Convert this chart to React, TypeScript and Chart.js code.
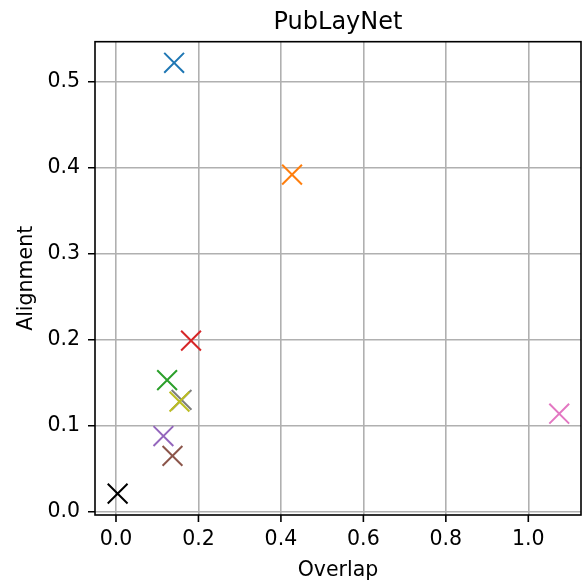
import React, { useEffect, useRef } from "react";
import { Chart, registerables } from "chart.js";

Chart.register(...registerables);

const TITLE = "PubLayNet";
const X_LABEL = "Overlap";
const Y_LABEL = "Alignment";

const overlap = [0.141, 0.427, 0.124, 0.182, 0.115, 0.137, 1.075, 0.159, 0.154, 0.004];
const alignment = [0.522, 0.392, 0.153, 0.199, 0.088, 0.065, 0.114, 0.13, 0.128, 0.021];
const colors = ["#1f77b4", "#ff7f0e", "#2ca02c", "#d62728", "#9467bd", "#8c564b", "#e377c2", "#7f7f7f", "#bcbd22", "#000000"];

const X_TICKS = [0, 0.2, 0.4, 0.6, 0.8, 1.0];
const Y_TICKS = [0, 0.1, 0.2, 0.3, 0.4, 0.5];

const FONT = "'DejaVu Sans', sans-serif";

const framePlugin = {
  id: "frame",
  afterDraw(chart: any) {
    const { ctx, chartArea } = chart;
    const { left, right, top, bottom } = chartArea;
    ctx.save();
    ctx.strokeStyle = "#000";
    ctx.lineWidth = 1.6;
    ctx.strokeRect(left, top, right - left, bottom - top);
    const xs = chart.scales.x;
    const ys = chart.scales.y;
    ctx.beginPath();
    for (const t of X_TICKS) {
      const px = xs.getPixelForValue(t);
      ctx.moveTo(px, bottom);
      ctx.lineTo(px, bottom + 7);
    }
    for (const t of Y_TICKS) {
      const py = ys.getPixelForValue(t);
      ctx.moveTo(left, py);
      ctx.lineTo(left - 7, py);
    }
    ctx.stroke();
    ctx.fillStyle = "#000";
    ctx.font = `24px ${FONT}`;
    ctx.textAlign = "center";
    ctx.textBaseline = "alphabetic";
    ctx.fillText(TITLE, (left + right) / 2, 28.5);
    ctx.restore();
  },
};

export default function App() {
  const ref = useRef<HTMLCanvasElement>(null);
  useEffect(() => {
    if (!ref.current) return;
    const datasets = overlap.map((x, i) => ({
      label: String(i),
      data: [{ x, y: alignment[i] }],
      borderColor: colors[i],
      backgroundColor: colors[i],
      pointStyle: "crossRot",
      pointRadius: 14,
      pointBorderWidth: 2,
      order: -i,
    }));
    const chart = new Chart(ref.current, {
      type: "scatter",
      data: { datasets },
      options: {
        animation: false,
        responsive: false,
        maintainAspectRatio: false,
        layout: { autoPadding: false, padding: { top: 41.7, right: 2, left: 0, bottom: 0 } },
        plugins: {
          legend: { display: false },
          title: { display: false },
          tooltip: { enabled: false },
        },
        scales: {
          x: {
            type: "linear",
            min: -0.0509,
            max: 1.1278,
            afterBuildTicks: (s: any) => {
              s.ticks = X_TICKS.map((v) => ({ value: v }));
            },
            afterFit: (s: any) => {
              s.height = 71;
              s.paddingLeft = 0;
              s.paddingRight = 0;
            },
            grid: { color: "#b0b0b0", lineWidth: 1.6, drawTicks: false },
            border: { display: false },
            ticks: {
              color: "#000",
              font: { family: FONT, size: 20.5 },
              padding: 12,
              callback: (v: any) => Number(v).toFixed(1),
            },
            title: {
              display: true,
              text: X_LABEL,
              color: "#000",
              font: { family: FONT, size: 20.5 },
              padding: { top: 0, bottom: 2.8 },
            },
          },
          y: {
            type: "linear",
            min: -0.0038,
            max: 0.5465,
            afterBuildTicks: (s: any) => {
              s.ticks = Y_TICKS.map((v) => ({ value: v }));
            },
            afterFit: (s: any) => {
              s.width = 95;
              s.paddingTop = 0;
              s.paddingBottom = 0;
            },
            grid: { color: "#b0b0b0", lineWidth: 1.6, drawTicks: false },
            border: { display: false },
            ticks: {
              color: "#000",
              font: { family: FONT, size: 20.5 },
              padding: 15,
              callback: (v: any) => Number(v).toFixed(1),
            },
            title: {
              display: true,
              text: Y_LABEL,
              color: "#000",
              font: { family: FONT, size: 20.5 },
              padding: { top: 14.1, bottom: 0 },
            },
          },
        },
      } as any,
      plugins: [framePlugin],
    });
    return () => chart.destroy();
  }, []);
  return (
    <div style={{ position: "fixed", left: 0, top: 0, width: 583, height: 586, background: "#fff" }}>
      <canvas ref={ref} width={583} height={586} style={{ width: 583, height: 586 }} />
    </div>
  );
}
